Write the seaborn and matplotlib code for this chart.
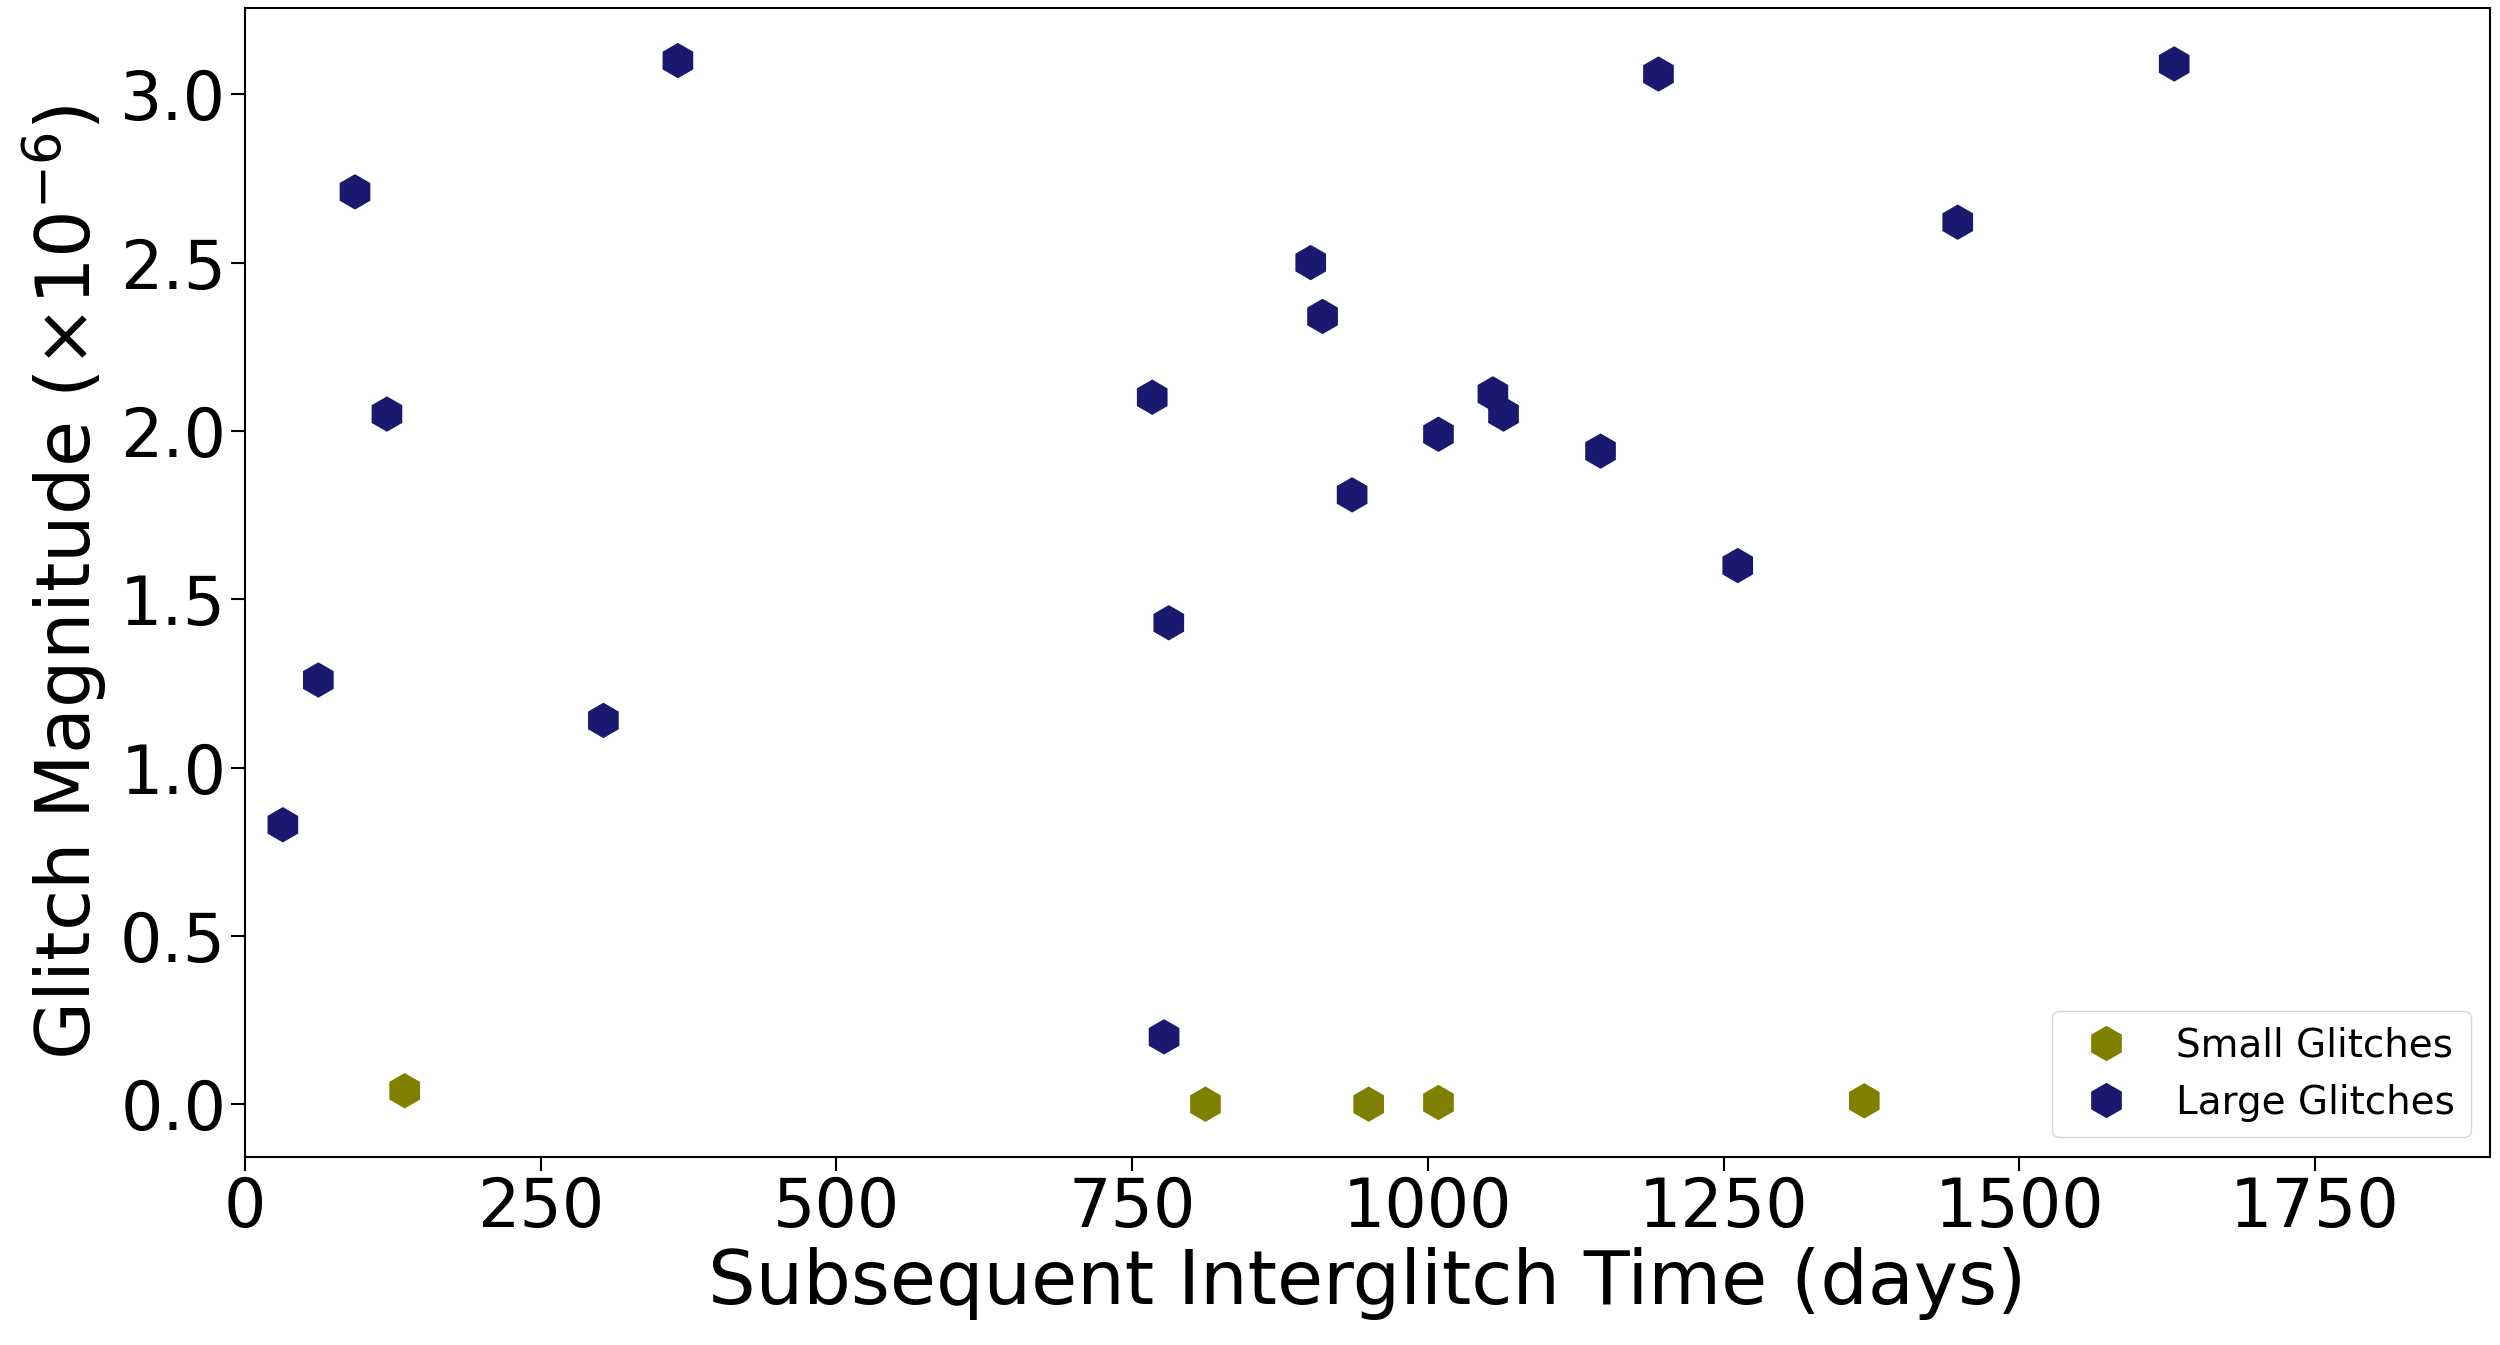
import matplotlib
matplotlib.use("Agg")
import matplotlib.pyplot as plt
import pandas as pd
import seaborn as sns

large_x = [32, 62, 93, 120, 303, 366, 767, 781, 777, 901, 911, 936, 1009, 1055, 1064, 1146, 1195, 1262, 1448, 1631]
large_y = [0.83, 1.26, 2.71, 2.05, 1.14, 3.10, 2.10, 1.43, 0.20, 2.50, 2.34, 1.81, 1.99, 2.11, 2.05, 1.94, 3.06, 1.60, 2.62, 3.09]
small_x = [135, 812, 950, 1009, 1369]
small_y = [0.04, 0.0, 0.0, 0.005, 0.01]

data = pd.DataFrame({
    "x": small_x + large_x,
    "y": small_y + large_y,
    "kind": ["Small Glitches"] * len(small_x) + ["Large Glitches"] * len(large_x),
})

sns.set_style("ticks")
plt.rcParams["font.family"] = ["DejaVu Sans"]
plt.rcParams["text.color"] = "black"
plt.rcParams["axes.labelcolor"] = "black"
plt.rcParams["xtick.color"] = "black"
plt.rcParams["ytick.color"] = "black"
fig, ax = plt.subplots(figsize=(25, 13.45), dpi=100)
fig.subplots_adjust(left=0.098, right=0.996, top=0.994, bottom=0.14)

sns.scatterplot(
    data=data, x="x", y="y", hue="kind",
    palette={"Small Glitches": "#808000", "Large Glitches": "#191970"},
    marker="h", s=650, edgecolor="none", ax=ax,
)

ax.set_xlim(0, 1898)
ax.set_ylim(-0.156, 3.256)
ax.set_xticks([0, 250, 500, 750, 1000, 1250, 1500, 1750])
ax.set_yticks([0.0, 0.5, 1.0, 1.5, 2.0, 2.5, 3.0])
ax.tick_params(labelsize=48, length=10, width=1.5, colors="black")
for s in ax.spines.values():
    s.set_linewidth(1.5)
    s.set_color("black")
ax.set_xlabel("Subsequent Interglitch Time (days)", fontsize=54, labelpad=4)
ax.set_ylabel(r"Glitch Magnitude ($\times10^{-6}$)", fontsize=54, labelpad=8)
ax.legend(loc="lower right", fontsize=28, markerscale=1.0, frameon=True)

fig.savefig("out.png")
